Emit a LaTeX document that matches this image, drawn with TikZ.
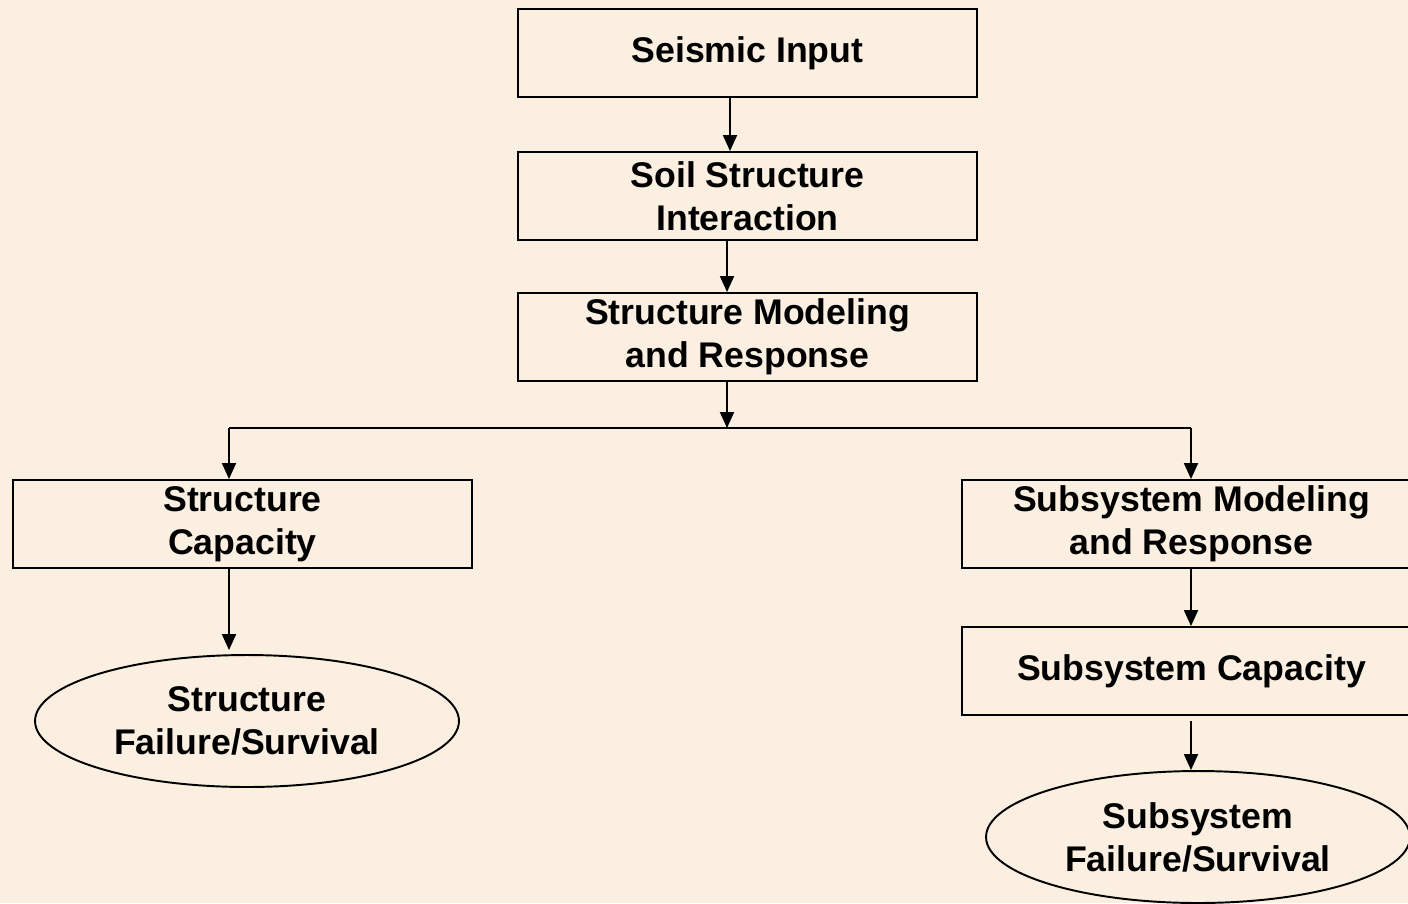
\documentclass[tikz,border=0pt]{standalone}
\usepackage{fontspec}
\setmainfont{Liberation Sans}
\usetikzlibrary{arrows.meta,shapes.geometric}
\definecolor{bgc}{RGB}{250,239,224}
\begin{document}
\begin{tikzpicture}[x=0.02cm,y=-0.02cm,
  every node/.style={font=\fontsize{20.3}{24.4}\selectfont\bfseries, align=center, line width=1.1pt},
  boxnode/.style={draw, rectangle, minimum width=9.18cm, minimum height=1.76cm, inner sep=0pt},
  ellnode/.style={draw, ellipse, minimum width=8.48cm, minimum height=2.64cm, inner sep=0pt},
  arr/.style={line width=1.1pt, -{Triangle[length=0.32cm,width=0.28cm]}},
  ln/.style={line width=1.1pt}]
\fill[bgc] (0,0) rectangle (1408,903);
\useasboundingbox (0,0) rectangle (1408,903);
\clip (0,0) rectangle (1408,903);
\node[boxnode] (seis) at (747.5,53) {Seismic Input};
\node[boxnode] (ssi) at (747.5,196) {Soil Structure\\Interaction};
\node[boxnode] (smr) at (747.5,337) {Structure Modeling\\and Response};
\node[boxnode] (scap) at (242.5,524) {Structure\\Capacity};
\node[boxnode] (submr) at (1191.5,524) {Subsystem Modeling\\and Response};
\node[boxnode] (subcap) at (1191.5,671) {Subsystem Capacity};
\node[ellnode] (sfs) at (247,721) {Structure\\Failure/Survival};
\node[ellnode] (subfs) at (1198,837) {Subsystem\\Failure/Survival};
\coordinate (bus) at (727,428);
\coordinate (busL) at (229,428);
\coordinate (busR) at (1191,428);
\draw[arr] ([xshift=-0.35cm]seis.south) -- ([xshift=-0.35cm]ssi.north);
\draw[arr] ([xshift=-0.41cm]ssi.south) -- ([xshift=-0.41cm]smr.north);
\draw[arr] ([xshift=-0.41cm]smr.south) -- (bus);
\draw[ln] (busL) -- (busR);
\draw[arr] (busL) -- (busL |- scap.north);
\draw[arr] (busR) -- (busR |- submr.north);
\draw[arr] (scap.south -| busL) -- ([yshift=0.08cm]sfs.north -| busL);
\draw[arr] (submr.south -| busR) -- (subcap.north -| busR);
\draw[arr] ([yshift=-0.1cm]subcap.south -| busR) -- (subfs.north -| busR);
\end{tikzpicture}
\end{document}
